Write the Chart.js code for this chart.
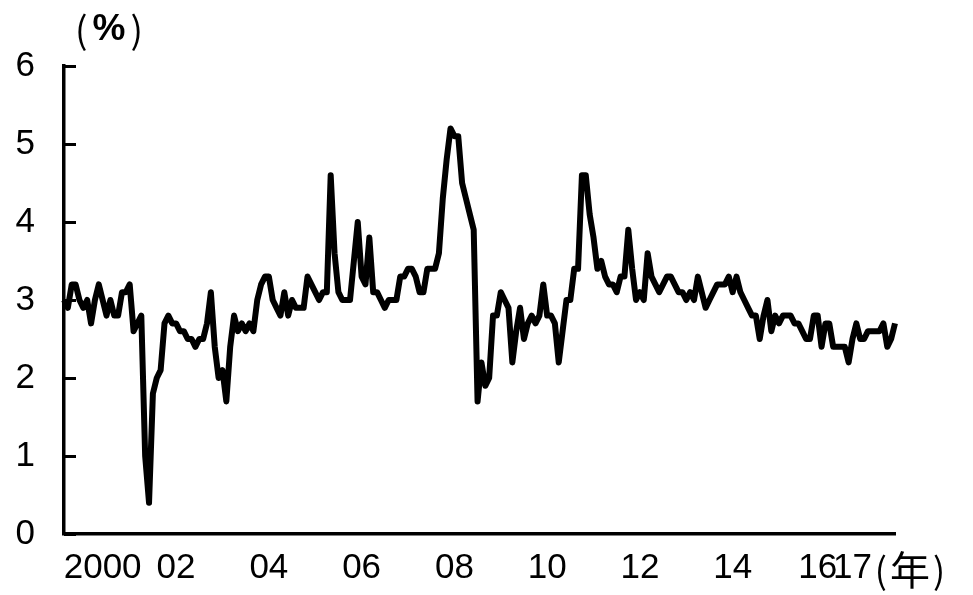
<!DOCTYPE html>
<html>
<head>
<meta charset="utf-8">
<script src="https://cdn.jsdelivr.net/npm/chart.js@4.4.1/dist/chart.umd.min.js"></script>
<style>
  body { margin: 0; background: #fff; }
  #wrap { width: 973px; height: 595px; position: relative; }
</style>
</head>
<body>
<div id="wrap"><canvas id="chart"></canvas></div>
<script>
// ------------------ Data ------------------
const startYear = 2000;

// monthly values (%), Jan 2000 - Dec 2017, one row per year
const rates = [
  3.0, 2.9, 3.2, 3.2, 3.0, 2.9, 3.0, 2.7, 3.0, 3.2, 3.0, 2.8,
  3.0, 2.8, 2.8, 3.1, 3.1, 3.2, 2.6, 2.7, 2.8, 1.0, 0.4, 1.8,
  2.0, 2.1, 2.7, 2.8, 2.7, 2.7, 2.6, 2.6, 2.5, 2.5, 2.4, 2.5,
  2.5, 2.7, 3.1, 2.4, 2.0, 2.1, 1.7, 2.4, 2.8, 2.6, 2.7, 2.6,
  2.7, 2.6, 3.0, 3.2, 3.3, 3.3, 3.0, 2.9, 2.8, 3.1, 2.8, 3.0,
  2.9, 2.9, 2.9, 3.3, 3.2, 3.1, 3.0, 3.1, 3.1, 4.6, 3.6, 3.1,
  3.0, 3.0, 3.0, 3.5, 4.0, 3.3, 3.2, 3.8, 3.1, 3.1, 3.0, 2.9,
  3.0, 3.0, 3.0, 3.3, 3.3, 3.4, 3.4, 3.3, 3.1, 3.1, 3.4, 3.4,
  3.4, 3.6, 4.3, 4.8, 5.2, 5.1, 5.1, 4.5, 4.3, 4.1, 3.9, 1.7,
  2.2, 1.9, 2.0, 2.8, 2.8, 3.1, 3.0, 2.9, 2.2, 2.6, 2.9, 2.5,
  2.7, 2.8, 2.7, 2.8, 3.2, 2.8, 2.8, 2.7, 2.2, 2.6, 3.0, 3.0,
  3.4, 3.4, 4.6, 4.6, 4.1, 3.8, 3.4, 3.5, 3.3, 3.2, 3.2, 3.1,
  3.3, 3.3, 3.9, 3.4, 3.0, 3.1, 3.0, 3.6, 3.3, 3.2, 3.1, 3.2,
  3.3, 3.3, 3.2, 3.1, 3.1, 3.0, 3.1, 3.0, 3.3, 3.1, 2.9, 3.0,
  3.1, 3.2, 3.2, 3.2, 3.3, 3.1, 3.3, 3.1, 3.0, 2.9, 2.8, 2.8,
  2.5, 2.8, 3.0, 2.6, 2.8, 2.7, 2.8, 2.8, 2.8, 2.7, 2.7, 2.6,
  2.5, 2.5, 2.8, 2.8, 2.4, 2.7, 2.7, 2.4, 2.4, 2.4, 2.4, 2.2,
  2.5, 2.7, 2.5, 2.5, 2.6, 2.6, 2.6, 2.6, 2.7, 2.4, 2.5, 2.7
];

// x tick labels and the month each one sits under
const tickLabels = ['2000', '02', '04', '06', '08', '10', '12', '14', '16', '17'];
const tickMonths = ['2000-11', '2002-06', '2004-06', '2006-06', '2008-06',
                    '2010-06', '2012-06', '2014-06', '2016-04', '2017-01'];

const yMin = 0;
const yMax = 6;
const yUnit = '%';
const xUnit = '年';

// month categories: 2000-01, 2000-02, ...
const months = rates.map((v, i) => {
    const y = startYear + Math.floor(i / 12);
    const m = (i % 12) + 1;
    return y + '-' + String(m).padStart(2, '0');
});

// ------------------ Plugins ------------------
const tickFamily = "'Liberation Sans', Arial, sans-serif";
const cjkFamily = "'Noto Sans CJK JP', sans-serif";

// tick marks on the y axis point inwards
const innerTicks = {
    id: 'innerTicks',
    afterDraw(chart) {
        const {ctx, chartArea, scales} = chart;
        ctx.save();
        ctx.strokeStyle = '#000';
        ctx.lineWidth = 3;
        scales.y.ticks.forEach(t => {
            const y = Math.round(scales.y.getPixelForValue(t.value)) + 0.5;
            ctx.beginPath();
            ctx.moveTo(chartArea.left, y);
            ctx.lineTo(chartArea.left + 12, y);
            ctx.stroke();
        });
        ctx.restore();
    }
};

// draws "(" unit ")" with the unit centred at cx
function unitText(ctx, unit, unitFont, parenFont, cx, cy, gap) {
    ctx.font = unitFont;
    const w = ctx.measureText(unit).width;
    ctx.textAlign = 'center';
    ctx.fillText(unit, cx, cy);
    ctx.font = parenFont;
    ctx.textAlign = 'right';
    ctx.fillText('(', cx - w / 2 - gap, cy);
    ctx.textAlign = 'left';
    ctx.fillText(')', cx + w / 2 + gap, cy);
}

// unit labels: (%) over the y axis, (年) after the last x label
const unitLabels = {
    id: 'unitLabels',
    afterDraw(chart) {
        const {ctx, chartArea} = chart;
        ctx.save();
        ctx.fillStyle = '#000';
        ctx.textBaseline = 'middle';
        unitText(ctx, yUnit, 'bold 37px ' + tickFamily, '37px ' + cjkFamily,
                 chartArea.left + 45, 30, 5);
        unitText(ctx, xUnit, '40px ' + cjkFamily, '36px ' + cjkFamily,
                 chartArea.right + 15, 570, 3);
        ctx.restore();
    }
};

// ------------------ Chart ------------------
const ctx = document.getElementById('chart').getContext('2d');

new Chart(ctx, {
    type: 'line',
    data: {
        labels: months,
        datasets: [{
            data: rates,
            borderColor: '#000',
            borderWidth: 6,
            borderJoinStyle: 'round',
            pointRadius: 0,
            tension: 0,
            fill: false
        }]
    },
    options: {
        responsive: true,
        maintainAspectRatio: false,
        animation: false,
        layout: { padding: { left: 0, right: 78, top: 66, bottom: 0 } },
        plugins: {
            legend: { display: false },
            tooltip: { enabled: false }
        },
        scales: {
            x: {
                offset: false,
                grid: { display: false, drawTicks: false },
                border: { display: true, color: '#000', width: 3.5 },
                ticks: {
                    autoSkip: false,
                    maxRotation: 0,
                    minRotation: 0,
                    padding: 13,
                    color: '#000',
                    font: { family: tickFamily, size: 35 },
                    callback: function(val) {
                        const j = tickMonths.indexOf(this.getLabelForValue(val));
                        return j >= 0 ? tickLabels[j] : '';
                    }
                },
                afterFit: (scale) => { scale.height = 61; }
            },
            y: {
                min: yMin,
                max: yMax,
                grid: { display: false, drawTicks: false },
                border: { display: true, color: '#000', width: 3.5 },
                ticks: {
                    stepSize: 1,
                    padding: 29,
                    color: '#000',
                    font: { family: tickFamily, size: 35 }
                },
                afterFit: (scale) => { scale.width = 64; }
            }
        }
    },
    plugins: [innerTicks, unitLabels]
});
</script>
</body>
</html>
